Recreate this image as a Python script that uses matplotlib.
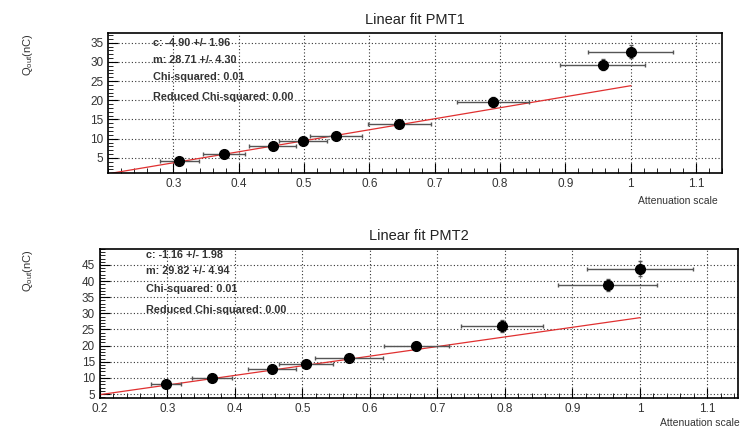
import numpy as np
import matplotlib.pyplot as plt
from matplotlib.ticker import MultipleLocator

plt.rcParams['font.family'] = ['Liberation Sans', 'DejaVu Sans']

# PMT1 data
x1 = [0.309, 0.377, 0.452, 0.498, 0.549, 0.646, 0.789, 0.957, 1.0]
y1 = [4.2, 6.0, 8.1, 9.4, 10.8, 13.9, 19.6, 29.3, 32.7]
xerr1 = [0.030, 0.032, 0.036, 0.037, 0.040, 0.048, 0.055, 0.065, 0.065]
yerr1 = [0.5, 0.6, 0.7, 0.8, 0.8, 0.9, 1.3, 1.5, 1.7]
fit1 = (-4.90, 28.71)
info1 = ['c: -4.90 +/- 1.96', 'm: 28.71 +/- 4.30',
         'Chi-squared: 0.01', 'Reduced Chi-squared: 0.00']

# PMT2 data
x2 = [0.298, 0.366, 0.455, 0.505, 0.569, 0.669, 0.796, 0.952, 1.0]
y2 = [8.1, 10.0, 12.7, 14.3, 16.2, 19.9, 26.1, 38.8, 43.8]
xerr2 = [0.022, 0.030, 0.035, 0.040, 0.050, 0.048, 0.061, 0.073, 0.078]
yerr2 = [0.7, 0.8, 0.9, 1.0, 1.0, 1.2, 1.8, 2.0, 2.3]
fit2 = (-1.16, 29.82)
info2 = ['c: -1.16 +/- 1.98', 'm: 29.82 +/- 4.94',
         'Chi-squared: 0.01', 'Reduced Chi-squared: 0.00']


def draw_panel(ax, x, y, xerr, yerr, fit, info, title, xlim, ylim, yticks, xticks,
               text_y, ylab_x):
    ax.errorbar(x, y, xerr=xerr, yerr=yerr, fmt='o', color='black', ecolor='#555555',
                markersize=7, elinewidth=1.0, capsize=1.5, zorder=3)
    xf = np.array([0.2, 1.0])
    ax.plot(xf, fit[0] + fit[1] * xf, color='#e03030', lw=0.9, zorder=2)
    ax.set_xlim(*xlim)
    ax.set_ylim(*ylim)
    ax.set_xticks(xticks)
    ax.set_xticklabels([('%g' % t) for t in xticks])
    ax.set_yticks(yticks)
    ax.yaxis.set_minor_locator(MultipleLocator(1))
    ax.xaxis.set_minor_locator(MultipleLocator(0.02))
    ax.tick_params(direction='in', labelsize=8.5, labelcolor='#333333', length=7, width=0.8)
    ax.tick_params(which='minor', direction='in', length=3.5, width=0.6)
    ax.grid(True, color='#333333', linestyle=(0, (1, 2)), lw=0.8)
    for s in ax.spines.values():
        s.set_linewidth(1.2)
    ax.set_title(title, fontsize=10.5, color='#222222', pad=6)
    for txt, ty in zip(info, text_y):
        ax.text(0.073, ty, txt, transform=ax.transAxes, fontsize=7.8,
                fontweight='bold', color='#333333', va='center')
    ax.text(ylab_x, 1.0, r'$\mathregular{Q_{out}(nC)}$', transform=ax.transAxes,
            rotation=90, ha='center', va='top', fontsize=8, color='#333333')


fig = plt.figure(figsize=(7.4, 4.32), dpi=100)
ax1 = fig.add_axes([0.146, 0.60, 0.830, 0.324])
ax2 = fig.add_axes([0.135, 0.079, 0.862, 0.345])

draw_panel(ax1, x1, y1, xerr1, yerr1, fit1, info1, 'Linear fit PMT1',
           (0.2, 1.14), (1.1, 37.6), [5, 10, 15, 20, 25, 30, 35],
           [0.3, 0.4, 0.5, 0.6, 0.7, 0.8, 0.9, 1.0, 1.1],
           [0.929, 0.807, 0.686, 0.543], -0.13)
draw_panel(ax2, x2, y2, xerr2, yerr2, fit2, info2, 'Linear fit PMT2',
           (0.2, 1.145), (3.8, 50), [5, 10, 15, 20, 25, 30, 35, 40, 45],
           [0.2, 0.3, 0.4, 0.5, 0.6, 0.7, 0.8, 0.9, 1.0, 1.1],
           [0.96, 0.852, 0.73, 0.59], -0.113)

fig.text(0.97, 0.535, 'Attenuation scale', ha='right', va='center', fontsize=7.5, color='#333333')
fig.text(0.999, 0.02, 'Attenuation scale', ha='right', va='center', fontsize=7.5, color='#333333')

plt.savefig('out.png', dpi=100)
